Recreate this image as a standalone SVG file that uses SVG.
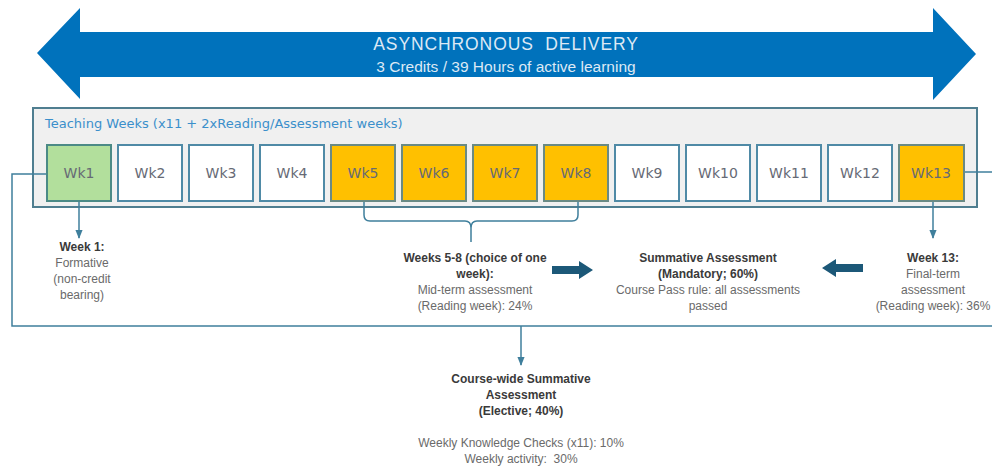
<svg xmlns="http://www.w3.org/2000/svg" width="992" height="471" viewBox="0 0 992 471">
<defs>
<style>
.wk{stroke:#4f8aa6;stroke-width:2;fill:#ffffff}
.wk.g{fill:#b2df9c;stroke:#4b8a86}
.wk.y{fill:#ffc000;stroke:#6a8a84}
.wt{font-family:"DejaVu Sans",Verdana,sans-serif;font-size:14px;fill:#666a75;text-anchor:middle}
.b{font-family:"Liberation Sans",Arial,sans-serif;font-size:12px;font-weight:bold;fill:#3a3a3a;text-anchor:middle}
.n{font-family:"Liberation Sans",Arial,sans-serif;font-size:12px;fill:#6a6a6a;text-anchor:middle;white-space:pre}
.ln{fill:none;stroke:#3f7f9c;stroke-width:1.5}
.fat{fill:#1c5878}
</style>
<marker id="ah" viewBox="0 0 10 10" refX="9" refY="5" markerWidth="6" markerHeight="6" orient="auto"><path d="M0,1 L10,5 L0,9 z" fill="#3f7f9c"/></marker>
</defs>
<g id="banner">
<path d="M37,53 L80,8 L80,32 L933,32 L933,8 L976,54 L933,100 L933,77 L80,77 L80,99 Z" fill="#0072bc"/>
<text x="506" y="50" font-family="Liberation Sans,Arial,sans-serif" font-size="17.5" fill="#dde9f5" text-anchor="middle" letter-spacing="0.9" style="white-space:pre">ASYNCHRONOUS  DELIVERY</text>
<text x="506" y="72" font-family="Liberation Sans,Arial,sans-serif" font-size="15.5" fill="#dde9f5" text-anchor="middle">3 Credits / 39 Hours of active learning</text>
</g>
<g id="teaching-weeks">
<rect x="33" y="108" width="944" height="99" fill="#f0f0f0" stroke="#4f7e90" stroke-width="2"/>
<text x="45" y="128" font-family="DejaVu Sans,Verdana,sans-serif" font-size="13" fill="#3b8fcb">Teaching Weeks (x11 + 2xReading/Assessment weeks)</text>
</g>
<g id="connectors">
<path class="ln" d="M47,174 H12 V326 H992"/>
<path class="ln" d="M964,172 H992"/>
<path class="ln" d="M521,326 V365" marker-end="url(#ah)"/>
<path class="ln" d="M79,201 V238" marker-end="url(#ah)"/>
<path class="ln" d="M933,201 V238" marker-end="url(#ah)"/>
<path class="ln" d="M364,201 V215 Q364,221 370,221 H465 Q471,221 471,228 V242 M471,228 Q471,221 477,221 H572 Q578,221 578,215 V201"/>
<path class="fat" d="M552,266 H579 V261 L593,270 L579,279 V274 H552 Z"/>
<path class="fat" d="M863,264 H836 V259 L822,268 L836,277 V272 H863 Z"/>
</g>
<g id="wk1"><rect class="wk g" x="47" y="145" width="64" height="56"/><text class="wt" x="79" y="178">Wk1</text></g>
<g id="wk2"><rect class="wk" x="118" y="145" width="64" height="56"/><text class="wt" x="150" y="178">Wk2</text></g>
<g id="wk3"><rect class="wk" x="189" y="145" width="64" height="56"/><text class="wt" x="221" y="178">Wk3</text></g>
<g id="wk4"><rect class="wk" x="260" y="145" width="64" height="56"/><text class="wt" x="292" y="178">Wk4</text></g>
<g id="wk5"><rect class="wk y" x="331" y="145" width="64" height="56"/><text class="wt" x="363" y="178">Wk5</text></g>
<g id="wk6"><rect class="wk y" x="402" y="145" width="64" height="56"/><text class="wt" x="434" y="178">Wk6</text></g>
<g id="wk7"><rect class="wk y" x="473" y="145" width="64" height="56"/><text class="wt" x="505" y="178">Wk7</text></g>
<g id="wk8"><rect class="wk y" x="544" y="145" width="64" height="56"/><text class="wt" x="576" y="178">Wk8</text></g>
<g id="wk9"><rect class="wk" x="615" y="145" width="64" height="56"/><text class="wt" x="647" y="178">Wk9</text></g>
<g id="wk10"><rect class="wk" x="686" y="145" width="64" height="56"/><text class="wt" x="718" y="178">Wk10</text></g>
<g id="wk11"><rect class="wk" x="757" y="145" width="64" height="56"/><text class="wt" x="789" y="178">Wk11</text></g>
<g id="wk12"><rect class="wk" x="828" y="145" width="64" height="56"/><text class="wt" x="860" y="178">Wk12</text></g>
<g id="wk13"><rect class="wk y" x="899" y="145" width="65" height="56"/><text class="wt" x="931" y="178">Wk13</text></g>
<g id="week1-text">
<text class="b" x="82" y="251">Week 1:</text>
<text class="n" x="82" y="267">Formative</text>
<text class="n" x="82" y="283">(non-credit</text>
<text class="n" x="82" y="299">bearing)</text>
</g>
<g id="weeks58-text">
<text class="b" x="475" y="262">Weeks 5-8 (choice of one</text>
<text class="b" x="475" y="278">week):</text>
<text class="n" x="475" y="294">Mid-term assessment</text>
<text class="n" x="475" y="310">(Reading week): 24%</text>
</g>
<g id="summative-text">
<text class="b" x="708" y="262">Summative Assessment</text>
<text class="b" x="708" y="278">(Mandatory; 60%)</text>
<text class="n" x="708" y="294">Course Pass rule: all assessments</text>
<text class="n" x="708" y="310">passed</text>
</g>
<g id="week13-text">
<text class="b" x="933" y="262">Week 13:</text>
<text class="n" x="933" y="278">Final-term</text>
<text class="n" x="933" y="294">assessment</text>
<text class="n" x="933" y="310">(Reading week): 36%</text>
</g>
<g id="coursewide-text">
<text class="b" x="521" y="383">Course-wide Summative</text>
<text class="b" x="521" y="399">Assessment</text>
<text class="b" x="521" y="415">(Elective; 40%)</text>
<text class="n" x="521" y="447">Weekly Knowledge Checks (x11): 10%</text>
<text class="n" x="521" y="463">Weekly activity:  30%</text>
</g>
</svg>
